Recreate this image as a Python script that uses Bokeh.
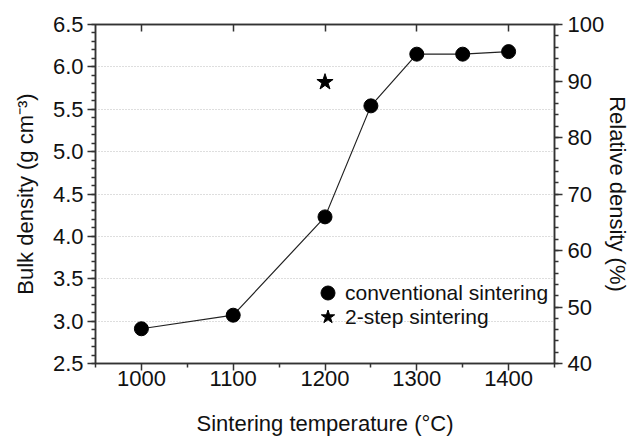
from bokeh.plotting import figure
from bokeh.models import (Range1d, LinearAxis, FixedTicker, SingleIntervalTicker,
                          Legend, LegendItem, NumeralTickFormatter)
from bokeh.embed import file_html
from bokeh.resources import INLINE

# Data
temps = [1000, 1100, 1200, 1250, 1300, 1350, 1400]
bulk_conv = [2.91, 3.07, 4.23, 5.54, 6.15, 6.15, 6.18]
temps_2step = [1200]
bulk_2step = [5.82]

x_major = [1000, 1100, 1200, 1300, 1400]
x_minor = [950, 1050, 1150, 1250, 1350, 1450]

FONT = "Liberation Sans"
AX = "#333333"
TXT = "#111111"
FS = "22px"

p = figure(width=633, height=438, x_range=Range1d(950, 1450), y_range=Range1d(2.5, 6.5),
           output_backend="svg", toolbar_location=None,
           min_border_left=95, min_border_right=77, min_border_top=24, min_border_bottom=75)
p.extra_y_ranges = {"rel": Range1d(40, 100)}

p.outline_line_color = AX
p.outline_line_width = 1.5
p.xgrid.grid_line_color = None
p.ygrid.grid_line_color = "#bdbdbd"
p.ygrid.grid_line_dash = "1 2"
p.ygrid.grid_line_width = 1

def style_axis(ax):
    ax.axis_line_color = AX
    ax.axis_line_width = 1.5
    ax.major_tick_line_color = AX
    ax.major_tick_line_width = 1.5
    ax.minor_tick_line_color = AX
    ax.minor_tick_line_width = 1.5
    ax.major_label_text_font = FONT
    ax.major_label_text_font_size = FS
    ax.major_label_text_color = TXT
    ax.axis_label_text_font = FONT
    ax.axis_label_text_font_size = FS
    ax.axis_label_text_font_style = "normal"
    ax.axis_label_text_color = TXT

# bottom axis
xa = p.xaxis[0]
xa.ticker = FixedTicker(ticks=x_major, minor_ticks=x_minor)
style_axis(xa)
xa.major_tick_in = 0
xa.major_tick_out = 7
xa.minor_tick_in = 0
xa.minor_tick_out = 4
xa.major_label_standoff = 0
xa.axis_label = "Sintering temperature (°C)"
xa.axis_label_standoff = 22

# left axis
ya = p.yaxis[0]
ya.ticker = SingleIntervalTicker(interval=0.5, num_minor_ticks=5)
ya.formatter = NumeralTickFormatter(format="0.0")
style_axis(ya)
ya.major_tick_in = 0
ya.major_tick_out = 8
ya.minor_tick_in = 0
ya.minor_tick_out = 4
ya.major_label_standoff = 4
ya.axis_label = "Bulk density (g cm⁻³)"
ya.axis_label_standoff = 12

# top axis (ticks only, inward, no labels)
top = LinearAxis(ticker=FixedTicker(ticks=x_major, minor_ticks=[]))
style_axis(top)
top.major_tick_in = 7
top.major_tick_out = 0
top.minor_tick_in = 0
top.minor_tick_out = 0
top.major_label_text_font_size = "10px"
top.major_label_text_color = None
top.major_label_standoff = 0
p.add_layout(top, "above")

# right axis
ra = LinearAxis(y_range_name="rel", ticker=SingleIntervalTicker(interval=10, num_minor_ticks=5))
style_axis(ra)
ra.major_tick_in = 0
ra.major_tick_out = 8
ra.minor_tick_in = 0
ra.minor_tick_out = 4
ra.major_label_standoff = 5
ra.axis_label = "Relative density (%)"
ra.axis_label_standoff = -2
p.add_layout(ra, "right")

# data
p.line(temps, bulk_conv, line_color="#222222", line_width=1.2)
r_conv = p.scatter(temps, bulk_conv, marker="circle", size=14,
                   fill_color="black", line_color="black")
r_two = p.scatter(temps_2step, bulk_2step, marker="star", size=17,
                  fill_color="black", line_color="black")

def make_legend(label, rend, loc):
    lg = Legend(items=[LegendItem(label=label, renderers=[rend])], location=loc)
    lg.glyph_width = 35
    lg.glyph_height = 35
    lg.label_standoff = -4
    lg.padding = 0
    lg.margin = 0
    lg.border_line_color = None
    lg.background_fill_alpha = 0
    lg.label_text_font = FONT
    lg.label_text_font_size = "21px"
    lg.label_text_color = TXT
    p.add_layout(lg, "center")

make_legend("conventional sintering", r_conv, (215, 53))
make_legend("2-step sintering", r_two, (215, 29))

open("out.html", "w").write(file_html(p, INLINE))
